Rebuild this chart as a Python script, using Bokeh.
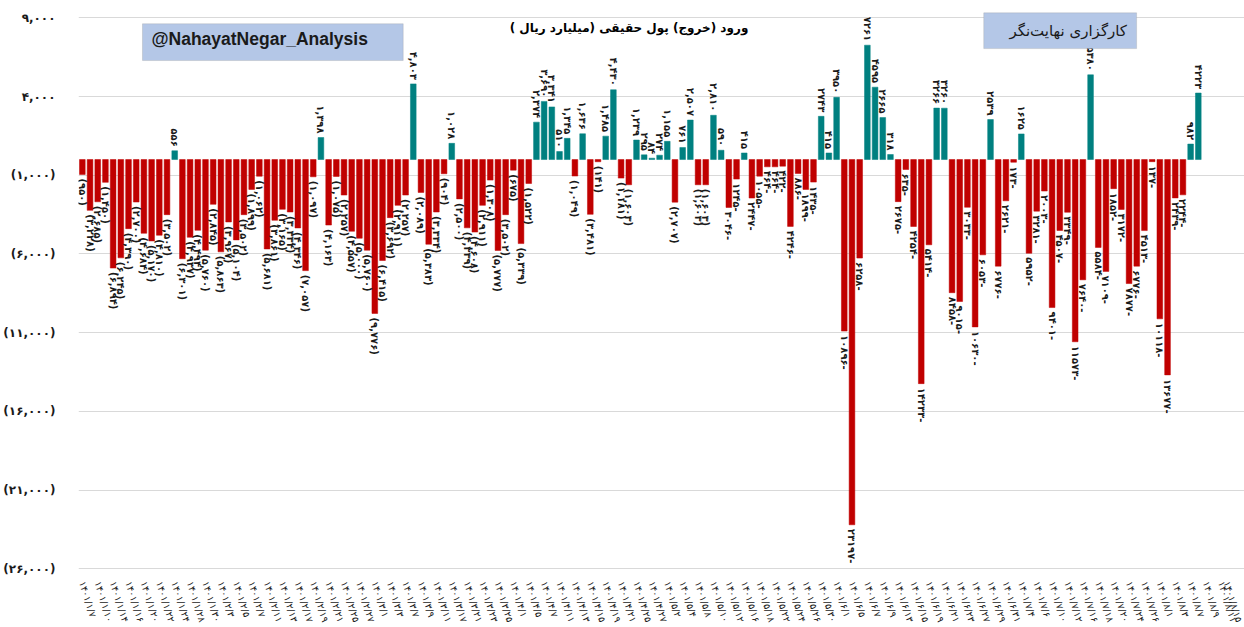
import math
from bokeh.plotting import figure
from bokeh.models import ColumnDataSource, FixedTicker, BoxAnnotation, Label, Range1d
from bokeh.embed import file_html
from bokeh.resources import INLINE
from bokeh.core.properties import value

# ---- data (billion rials) ----
flows = [
    -950, -3228, -2685, -1450, -6894, -6245, -4390, -2700, -4684, -5170,
    -4810, -3502, 556, -6301, -4937, -4494, -5760, -2845, -5863, -3967,
    -5104, -3502, -1899, -1062, -5681, -3861, -3165, -3334, -4346, -7057,
    -1097, 1398, -4163, -1075, -2257, -4557, -5000, -5760, -9776, -6415,
    -3692, -2911, -2257, 4803, -2089, -5383, -3334, -904, 1028, -2500,
    -4339, -4608, -2911, -1308, -5777, -3502, -675, -5339, -1522, 2374,
    3690, 3341, 510, 1345, -1049, 1636, -3481, -141, 1485, 4430,
    -1181, -1603, 1239, 295, 84, 274, 1155, -2707, 761, 2507,
    -1603, -1603, 2810, 590, -3046, -1245, 415, -2447, -1055, -464,
    -464, -422, -4246, -886, -1899, -1435, 2743, 415, 3950, -10896,
    -23197, -6258, 7261, 4595, 2665, 318, -2675, -635, -4254, -14233,
    -5414, 3266, 3260, -8458, -9015, -3033, -10630, -6053, 2539, -6776,
    -2621, -173, 1625, -5952, -3281, -2003, -9401, -4507, -3349, -11573,
    -7640, 5380, -5584, -7109, -1852, -3172, -7877, -6776, -4513, -137,
    -10118, -13677, -2439, -2244, 982, 4223,
]

# tick labels (every second trading day)
dates = [
    "1/7", "1/10", "1/14", "1/16", "1/20", "1/22", "1/24", "1/28", "1/30",
    "2/3", "2/5", "2/7", "2/11", "2/13", "2/17", "2/19", "2/21", "2/25", "2/27",
    "3/1", "3/3", "3/7", "3/9", "3/11", "3/17", "3/21", "3/23", "3/25",
    "4/1", "4/5", "4/7", "4/11", "4/13", "4/15", "4/19", "4/21", "4/25", "4/27",
    "5/2", "5/4", "5/8", "5/10", "5/12", "5/16", "5/18", "5/22", "5/24", "5/26", "5/30",
    "6/1", "6/5", "6/7", "6/9", "6/13", "6/15", "6/19", "6/21", "6/23", "6/27", "6/29", "6/31",
    "7/4", "7/6", "7/10", "7/12", "7/16", "7/18", "7/20", "7/24", "7/26",
    "8/1", "8/3", "8/7", "8/9", "8/11", "8/15",
]
year = "1401"

y_ticks = [9000, 4000, -1000, -6000, -11000, -16000, -21000, -26000]

title_text = "ورود (خروج) پول حقیقی (میلیارد ریال )"
brand_en = "@NahayatNegar_Analysis"
brand_fa = "کارگزاری نهایت\u200cنگر"

# number of accounting-formatted labels before the format changes
accounting_count = 84

# ---- helpers ----
FA = str.maketrans("0123456789", "۰۱۲۳۴۵۶۷۸۹")


def fa(s):
    return s.translate(FA)


def fmt_bar(v, i):
    if i < accounting_count:
        s = f"{abs(v):,}"
        return fa(f"({s})" if v < 0 else s)
    return fa(f"{abs(v)}-" if v < 0 else f"{v}")


def fmt_tick(t):
    s = f"{abs(t):,}"
    return fa(f"({s})" if t < 0 else s)


RED = "#c00000"
TEAL = "#008080"

xs = list(range(len(flows)))
colors = [TEAL if v > 0 else RED for v in flows]
labels = [fmt_bar(v, i) for i, v in enumerate(flows)]

src = ColumnDataSource(dict(x=xs, top=flows, color=colors))
pos = ColumnDataSource(dict(
    x=[x for x, v in zip(xs, flows) if v > 0],
    y=[v for v in flows if v > 0],
    t=[l for l, v in zip(labels, flows) if v > 0],
))
neg = ColumnDataSource(dict(
    x=[x for x, v in zip(xs, flows) if v <= 0],
    y=[v for v in flows if v <= 0],
    t=[l for l, v in zip(labels, flows) if v <= 0],
))

p = figure(
    width=1244, height=627,
    x_range=Range1d(-0.5, 151.0), y_range=Range1d(-26100, 9400),
    output_backend="svg", toolbar_location=None,
    min_border_left=77, min_border_right=0, min_border_top=11, min_border_bottom=53,
)
p.outline_line_color = None
p.background_fill_color = "white"

p.vbar(x="x", top="top", bottom=0, width=0.74, source=src,
       fill_color="color", line_color="color", line_width=0.5)

FONT = value("DejaVu Sans")
p.text(x="x", y="y", text="t", source=pos, angle=-math.pi / 2,
       text_align="right", text_baseline="middle", y_offset=-4,
       text_font=FONT, text_font_size="10px", text_font_style="bold",
       text_color="#1a1a1a")
p.text(x="x", y="y", text="t", source=neg, angle=-math.pi / 2,
       text_align="left", text_baseline="middle", y_offset=4,
       text_font=FONT, text_font_size="10px", text_font_style="bold",
       text_color="#1a1a1a")

# axes
p.yaxis.ticker = FixedTicker(ticks=y_ticks)
p.yaxis.major_label_overrides = {t: fmt_tick(t) for t in y_ticks}
p.yaxis.axis_line_color = None
p.yaxis.major_tick_line_color = None
p.yaxis.minor_tick_line_color = None
p.yaxis.major_label_standoff = 17
p.yaxis.major_label_text_font = "DejaVu Sans"
p.yaxis.major_label_text_font_size = "12px"
p.yaxis.major_label_text_font_style = "bold"
p.yaxis.major_label_text_color = "#1a1a1a"

tick_pos = list(range(0, 2 * len(dates), 2))
p.xaxis.ticker = FixedTicker(ticks=tick_pos)
p.xaxis.major_label_overrides = {t: fa(f"{year}/{d}") for t, d in zip(tick_pos, dates)}
p.xaxis.major_label_orientation = -1.27
p.xaxis.axis_line_color = None
p.xaxis.major_tick_line_color = None
p.xaxis.minor_tick_line_color = None
p.xaxis.major_label_standoff = 5
p.xaxis.major_label_text_font = "DejaVu Sans"
p.xaxis.major_label_text_font_size = "9.5px"
p.xaxis.major_label_text_color = "#1a1a1a"

p.xgrid.visible = False
p.ygrid.ticker = FixedTicker(ticks=y_ticks)
p.ygrid.grid_line_color = "#d9d9d9"
p.ygrid.grid_line_width = 1

# annotations
p.add_layout(Label(x=71.03, y=8368, text=title_text, text_align="center",
                   text_baseline="middle", text_font="DejaVu Sans",
                   text_font_size="12px", text_font_style="bold", text_color="black"))

p.add_layout(BoxAnnotation(left=7.81, right=41.69, top=8620, bottom=6287,
                           fill_color="#b4c7e7", fill_alpha=1.0,
                           line_color="#9a9a9a", line_width=1))
p.add_layout(Label(x=8.98, y=7675, text=brand_en, text_align="left",
                   text_baseline="middle", text_font="Liberation Sans",
                   text_font_size="17.5px", text_font_style="bold", text_color="#1a1a1a"))

p.add_layout(BoxAnnotation(left=117.12, right=136.98, top=9314, bottom=7044,
                           fill_color="#b4c7e7", fill_alpha=1.0,
                           line_color="#9a9a9a", line_width=1))
p.add_layout(Label(x=128.09, y=8179, text=brand_fa, text_align="center",
                   text_baseline="middle", text_font="DejaVu Sans",
                   text_font_size="15px", text_color="#1a1a1a"))

open("out.html", "w").write(file_html(p, INLINE))
